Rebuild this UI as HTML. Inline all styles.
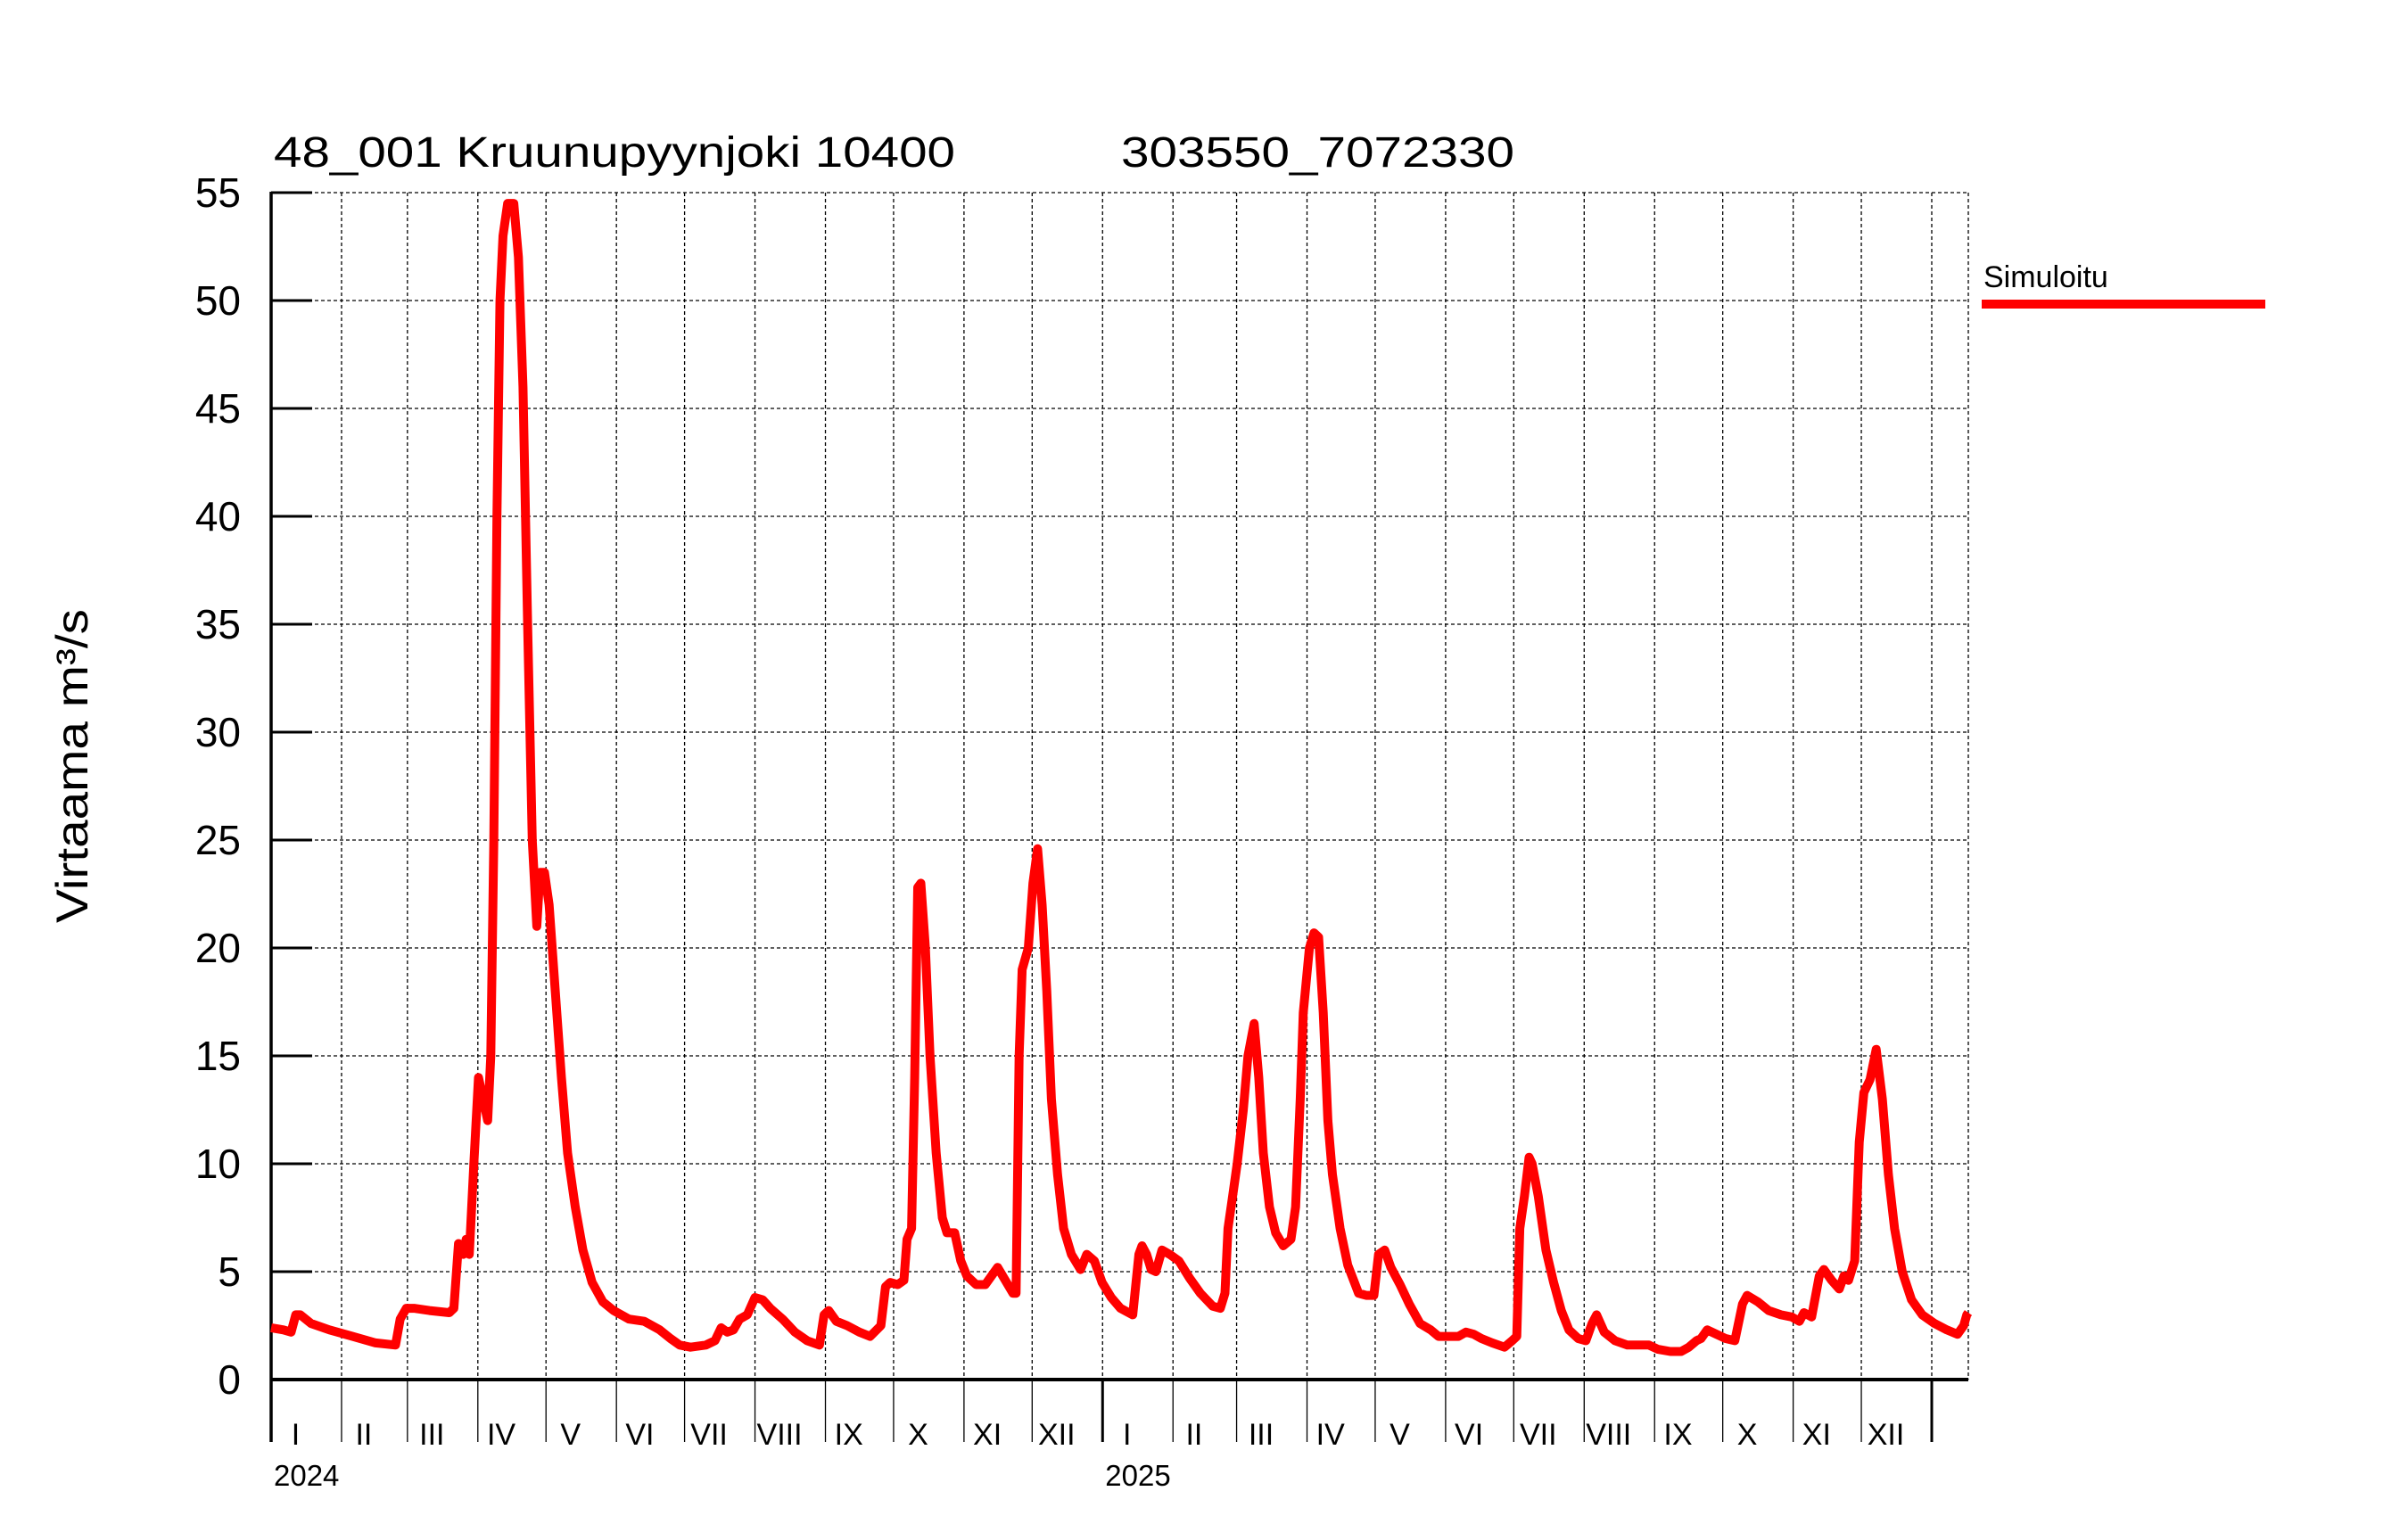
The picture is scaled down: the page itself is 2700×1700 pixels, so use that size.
<!DOCTYPE html>
<html><head><meta charset="utf-8"><style>html,body{margin:0;padding:0;background:#fff}svg{display:block}</style></head>
<body>
<svg id="s" xmlns="http://www.w3.org/2000/svg" width="2700" height="1700" viewBox="0 0 2700 1700" font-family="'Liberation Sans', Arial, sans-serif">
<rect width="2700" height="1700" fill="#fff"/>
<g id="grid"></g>
<text x="307" y="187" font-size="48" textLength="764" lengthAdjust="spacingAndGlyphs">48_001 Kruunupyynjoki 10400</text>
<text x="1257" y="187" font-size="48" textLength="441" lengthAdjust="spacingAndGlyphs">303550_7072330</text>
<text transform="translate(98,859) rotate(-90)" text-anchor="middle" font-size="50" textLength="352" lengthAdjust="spacingAndGlyphs">Virtaama m³/s</text>
<text x="2224" y="322" font-size="34">Simuloitu</text>
<rect x="2222" y="336" width="318" height="10" fill="#ff0000"/>
<polyline id="ser" fill="none" stroke="#ff0000" stroke-width="10" stroke-linejoin="round" stroke-linecap="butt" points=""/>
</svg>
<script>
(function(){
var NS="http://www.w3.org/2000/svg",g=document.getElementById('grid');
function el(t,a,txt){var e=document.createElementNS(NS,t);for(var k in a)e.setAttribute(k,a[k]);if(txt!=null)e.textContent=txt;g.appendChild(e);return e;}
var X0=304,PD=(2166-304)/731,Y0=1547,PU=(1547-216)/55,XR=2207;
for(var v=0;v<=55;v+=5){var y=Y0-v*PU;
 if(v>0)el('line',{x1:X0,x2:XR,y1:y,y2:y,stroke:'#000','stroke-width':1.3,'stroke-dasharray':'4,3'});
 if(v>0)el('line',{x1:X0,x2:350,y1:y,y2:y,stroke:'#000','stroke-width':3});
 el('text',{x:270,y:y+16,'text-anchor':'end','font-size':46},String(v));}
var md=[31,29,31,30,31,30,31,31,30,31,30,31,31,28,31,30,31,30,31,31,30,31,30,31];
var rn=['I','II','III','IV','V','VI','VII','VIII','IX','X','XI','XII'];
var d=0;
for(var i=0;i<24;i++){var xs=X0+d*PD;d+=md[i];var xe=X0+d*PD;
 if(i>0)el('line',{x1:xs,x2:xs,y1:216,y2:Y0,stroke:'#000','stroke-width':1.3,'stroke-dasharray':'4,3'});
 var yr=(i==0||i==12);
 el('line',{x1:xs,x2:xs,y1:Y0,y2:1617,stroke:'#000','stroke-width':yr?3:1.3});
 el('text',{x:(xs+xe)/2-12,y:1620,'text-anchor':'middle','font-size':34},rn[i%12]);}
var xend=X0+d*PD;
el('line',{x1:xend,x2:xend,y1:Y0,y2:1617,stroke:'#000','stroke-width':3});
el('line',{x1:xend,x2:xend,y1:216,y2:Y0,stroke:'#000','stroke-width':1.3,'stroke-dasharray':'4,3'});
el('line',{x1:XR,x2:XR,y1:216,y2:Y0,stroke:'#000','stroke-width':1.3,'stroke-dasharray':'4,3'});
el('line',{x1:X0,x2:X0,y1:215,y2:1617,stroke:'#000','stroke-width':3.5});
el('line',{x1:X0,x2:XR,y1:Y0,y2:Y0,stroke:'#000','stroke-width':4});
el('text',{x:307,y:1666,'font-size':33},'2024');
el('text',{x:X0+366*PD+3,y:1666,'font-size':33},'2025');
var P=[177,2.4,185,2.3,190,2.2,193,3.0,196,3.0,203,2.6,215,2.3,230,2.0,245,1.7,258,1.6,261,2.8,265,3.3,270,3.3,280,3.2,293,3.1,296,3.3,299,6.3,302,5.8,304,6.5,306,5.8,309,10,312,14,315,13,318,12,320,15,322,25,324,40,326,50,328,53,331,54.5,335,54.5,338,52,341,46,344,35,347,25,350,21,352,23.5,355,23.5,358,22,362,18,366,14,370,10.5,375,8,380,6,386,4.5,393,3.6,400,3.2,410,2.8,420,2.7,430,2.3,437,1.9,443,1.6,450,1.5,460,1.6,466,1.8,470,2.4,474,2.2,478,2.3,482,2.8,487,3.0,492,3.8,497,3.7,502,3.3,510,2.8,518,2.2,526,1.8,534,1.6,537,3.0,540,3.2,545,2.7,552,2.5,560,2.2,567,2.0,574,2.5,577,4.3,580,4.5,585,4.4,589,4.6,591,6.5,594,7,596,14,598,22.8,600,23,603,20,606,15,610,10.5,614,7.5,617,6.8,622,6.8,626,5.5,630,4.8,636,4.4,642,4.4,646,4.8,650,5.2,655,4.6,660,4.0,662,4.0,664,15,666,19,670,20,673,23,676,24.6,679,22,682,18,685,13,689,9.5,693,7,698,5.8,704,5.1,708,5.8,713,5.5,718,4.5,724,3.8,730,3.3,738,3.0,742,5.8,744,6.2,747,5.8,750,5.1,753,5.0,757,6.0,762,5.8,768,5.5,775,4.7,782,4.0,790,3.4,795,3.3,798,4,800,7,803,8.5,806,10,810,12.5,813,15,817,16.5,820,14,823,10.5,827,8,831,6.8,836,6.2,841,6.5,844,8,847,13,849,17,853,20,856,20.7,859,20.5,862,17,865,12,868,9.5,873,7,878,5.3,885,4,890,3.9,895,3.9,898,5.8,902,6.0,906,5.2,912,4.4,918,3.5,925,2.6,932,2.3,937,2.0,945,2.0,950,2.0,955,2.2,960,2.1,965,1.9,972,1.7,980,1.5,985,1.8,988,2.0,990,7,993,8.5,996,10.3,998,10,1002,8.5,1007,6,1012,4.5,1017,3.2,1022,2.3,1028,1.9,1033,1.8,1037,2.6,1040,3.0,1045,2.2,1052,1.8,1060,1.6,1068,1.6,1074,1.6,1080,1.4,1088,1.3,1095,1.3,1100,1.5,1105,1.8,1108,1.9,1112,2.3,1118,2.1,1124,1.9,1130,1.8,1135,3.5,1138,3.9,1145,3.6,1152,3.2,1160,3.0,1167,2.9,1172,2.7,1175,3.1,1180,2.9,1185,4.8,1188,5.1,1193,4.6,1198,4.2,1201,4.8,1204,4.6,1208,5.5,1211,11,1214,13.3,1218,13.9,1222,15.3,1226,13,1230,9.5,1234,7,1239,5,1245,3.7,1252,3.0,1260,2.6,1268,2.3,1275,2.1,1279,2.5,1281,3.0,1282,3.1];
var s=[];for(var j=0;j<P.length;j+=2){var x=X0+(P[j]-177)*(XR-X0)/(1282-177);s.push(x.toFixed(1)+','+(Y0-P[j+1]*PU).toFixed(1));}
document.getElementById('ser').setAttribute('points',s.join(' '));
})();
</script>
</body></html>
